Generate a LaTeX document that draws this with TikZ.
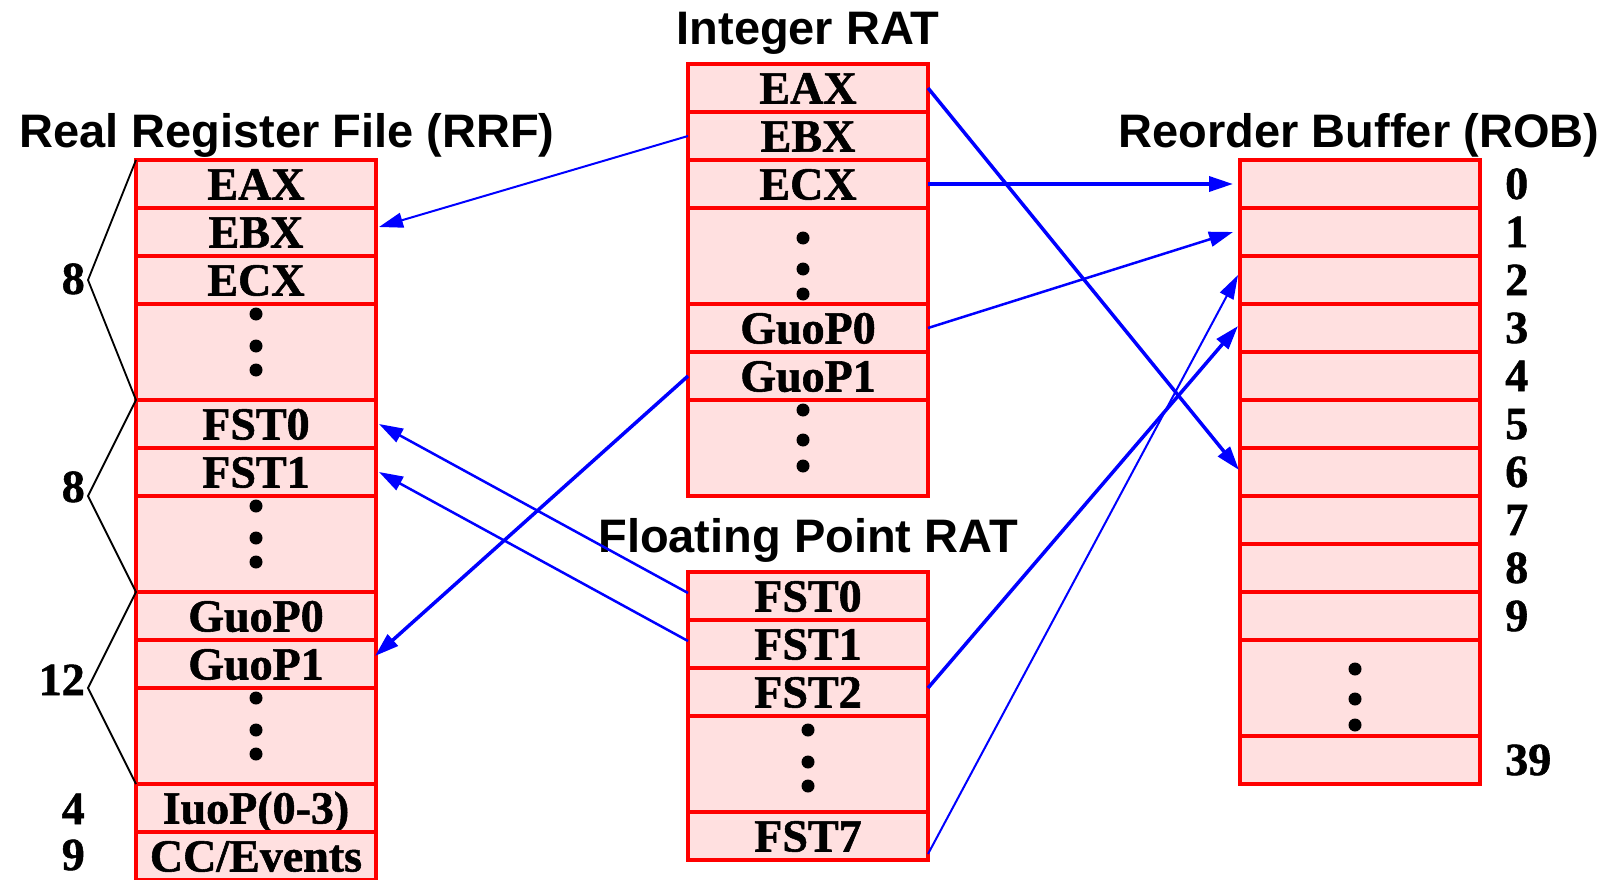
\documentclass[tikz,border=0pt]{standalone}
\usepackage{fontspec}
\setmainfont{Liberation Serif}
\newfontfamily\regfam{Liberation Serif}[BoldFeatures={FakeBold=1.2}]
\newfontfamily\titlefam{Liberation Sans}
\usetikzlibrary{arrows.meta,calc}
\definecolor{regred}{RGB}{255,0,0}
\definecolor{regfill}{RGB}{255,224,224}
\definecolor{arrblue}{RGB}{0,0,255}
\newcommand\regfont{\regfam\fontsize{46}{46}\selectfont\bfseries}
\newcommand\ttlfont{\titlefam\fontsize{47}{47}\selectfont\bfseries}
\newcommand\vdotsat[5]{\foreach \o in {#3,#4,#5}{\fill ($(#1.north)+(#2,\o)$) circle[radius=6.5pt];}}
\begin{document}
\begin{tikzpicture}[x=1pt,y=-1pt,
  reg/.style={draw=regred, line width=3.5pt, fill=regfill, minimum width=240pt, minimum height=48pt, inner sep=0pt, outer sep=0pt, font=\regfont, text height=31pt, text depth=0pt, anchor=north},
  gap/.style={reg, minimum height=96pt},
  ttl/.style={font=\ttlfont, anchor=base, inner sep=0pt},
  num/.style={font=\regfont, inner sep=0pt},
  arr/.style={draw=arrblue, -{Triangle[length=24pt,width=15pt]}},
  thk/.style={arr, line width=3.5pt},
  thn/.style={arr, line width=2pt},
  brace/.style={draw=black, line width=1.8pt, line join=miter}
]
\useasboundingbox (0,0) rectangle (1614,880);

% titles
\node[ttl] (t-int) at (808,45) {Integer RAT};
\node[ttl] (t-rrf) at (287,148) {Real Register File (RRF)};
\node[ttl] (t-rob) at (1359,148) {Reorder Buffer (ROB)};
\node[ttl] (t-fp) at (808,552) {Floating Point RAT};

% RRF
\node[reg] (r-eax) at (256,160) {EAX};
\node[reg] (r-ebx) at (r-eax.south) {EBX};
\node[reg] (r-ecx) at (r-ebx.south) {ECX};
\node[gap] (r-g1) at (r-ecx.south) {};
\node[reg] (r-fst0) at (r-g1.south) {FST0};
\node[reg] (r-fst1) at (r-fst0.south) {FST1};
\node[gap] (r-g2) at (r-fst1.south) {};
\node[reg] (r-guop0) at (r-g2.south) {GuoP0};
\node[reg] (r-guop1) at (r-guop0.south) {GuoP1};
\node[gap] (r-g3) at (r-guop1.south) {};
\node[reg] (r-iuop) at (r-g3.south) {IuoP(0-3)};
\node[reg] (r-cc) at (r-iuop.south) {CC/Events};
\vdotsat{r-g1}{0}{10}{42}{66}
\vdotsat{r-g2}{0}{10}{42}{66}
\vdotsat{r-g3}{0}{10}{42}{66}

% Integer RAT
\node[reg] (i-eax) at (808,64) {EAX};
\node[reg] (i-ebx) at (i-eax.south) {EBX};
\node[reg] (i-ecx) at (i-ebx.south) {ECX};
\node[gap] (i-g1) at (i-ecx.south) {};
\node[reg] (i-guop0) at (i-g1.south) {GuoP0};
\node[reg] (i-guop1) at (i-guop0.south) {GuoP1};
\node[gap] (i-g2) at (i-guop1.south) {};
\vdotsat{i-g1}{-5}{30}{61}{86}
\vdotsat{i-g2}{-5}{10}{40}{66}

% Floating point RAT
\node[reg] (f-fst0) at (808,572) {FST0};
\node[reg] (f-fst1) at (f-fst0.south) {FST1};
\node[reg] (f-fst2) at (f-fst1.south) {FST2};
\node[gap] (f-g) at (f-fst2.south) {};
\node[reg] (f-fst7) at (f-g.south) {FST7};
\vdotsat{f-g}{0}{14}{46}{70}

% ROB
\node[reg] (b-0) at (1360,160) {};
\foreach \i [remember=\i as \p (initially 0)] in {1,...,9}{
  \node[reg] (b-\i) at (b-\p.south) {};
}
\node[gap] (b-g) at (b-9.south) {};
\node[reg] (b-39) at (b-g.south) {};
\vdotsat{b-g}{-5}{29}{59}{85}
\foreach \i in {0,...,9}{
  \node[num, anchor=base west] (bn-\i) at (1505,{199+48*\i}) {\i};
}
\node[num, anchor=base west] (bn-39) at (1505,775) {39};

% left counts and brace
\coordinate (v1) at (88,280);
\coordinate (v2) at (88,496);
\coordinate (v3) at (88,688);
\draw[brace] (r-eax.north west) -- (v1) -- (r-fst0.north west) -- (v2) -- (r-guop0.north west) -- (v3) -- (r-iuop.north west);
\node[num, anchor=base east] (n-a) at (85,294) {8};
\node[num, anchor=base east] (n-b) at (85,502) {8};
\node[num, anchor=base east] (n-c) at (85,695) {12};
\node[num, anchor=base east] (n-d) at (85,824) {4};
\node[num, anchor=base east] (n-e) at (85,870) {9};

% arrows
\draw[thn] (i-ebx.west) -- ($(r-ebx.east)+(3,-5)$);
\draw[thk] (i-eax.east) -- ($(b-6.west)+(-1,-2)$);
\draw[thk] (i-ecx.east) -- ($(b-0.west)+(-7,0)$);
\draw[thn, line width=2.5pt] (i-guop0.east) -- ($(b-1.west)+(-7,0)$);
\draw[thk] (i-guop1.west) -- ($(r-guop1.east)+(-1,-8)$);
\draw[thn, line width=2.5pt] ($(f-fst0.west)+(0,-3)$) -- ($(r-fst0.east)+(3,0)$);
\draw[thn, line width=2.5pt] ($(f-fst1.west)+(0,-3)$) -- ($(r-fst1.east)+(3,0)$);
\draw[thk] ($(f-fst2.east)+(0,-4)$) -- ($(b-3.west)+(-2,-2)$);
\draw[thn] ($(f-fst7.east)+(0,18)$) -- ($(b-2.west)+(-2,-5)$);
\end{tikzpicture}
\end{document}
